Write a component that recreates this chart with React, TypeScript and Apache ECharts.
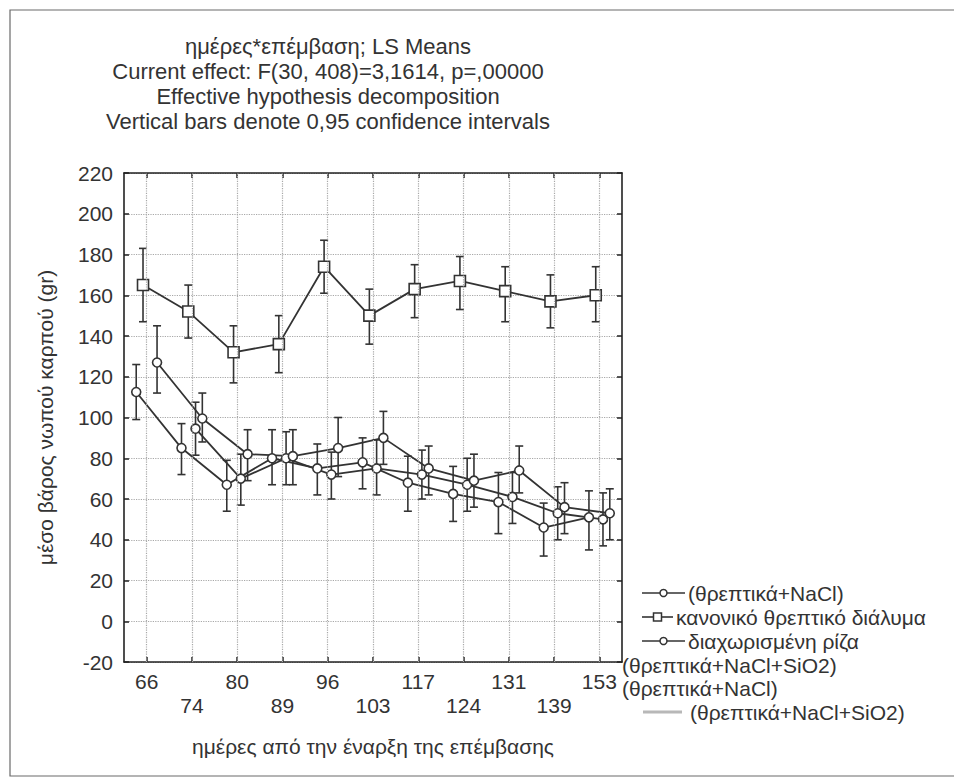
import React, { useEffect, useRef } from "react";
import * as echarts from "echarts";

// ---- data ----
const days = ["66", "74", "80", "89", "96", "103", "117", "124", "131", "139", "153"];

const titleLines = [
  "ημέρες*επέμβαση; LS Means",
  "Current effect: F(30, 408)=3,1614, p=,00000",
  "Effective hypothesis decomposition",
  "Vertical bars denote 0,95 confidence intervals",
];

const yAxisName = "μέσο βάρος νωπού καρπού (gr)";
const xAxisName = "ημέρες από την έναρξη της επέμβασης";

// (θρεπτικά+NaCl)
const saltMean = [112.5, 85, 67, 80, 75, 78, 68, 62.5, 58.5, 46, 51];
const saltLow = [99, 72, 54, 67, 62, 65, 54, 49, 43, 32, 35];
const saltHigh = [126, 97, 79, 94, 87, 90, 81, 76, 73, 58, 64];

// κανονικό θρεπτικό διάλυμα
const controlMean = [165, 152, 132, 136, 174, 150, 163, 167, 162, 157, 160];
const controlLow = [147, 139, 117, 122, 161, 136, 149, 153, 147, 144, 147];
const controlHigh = [183, 165, 145, 150, 187, 163, 175, 179, 174, 170, 174];

// διαχωρισμένη ρίζα (θρεπτικά+NaCl+SiO2)
const splitSiMean = [127, 99.5, 82, 81, 85, 90, 75, 69, 74, 56, 53];
const splitSiLow = [112, 88, 69, 67, 71, 77, 62, 56, 63, 43, 40];
const splitSiHigh = [145, 112, 94, 94, 100, 103, 86, 82, 86, 68, 65];

// (θρεπτικά+NaCl) / (θρεπτικά+NaCl+SiO2)
const splitSaltMean = [null, 94.5, 70, 80, 72, 75, 72, 67, 61, 53, 50];
const splitSaltLow = [null, 81.5, 57, 67, 60, 62, 60, 54, 48, 40, 37];
const splitSaltHigh = [null, 107.5, 82, 93, 83, 89, 84, 80, 73, 66, 63];

const legendLabels = [
  "(θρεπτικά+NaCl)",
  "κανονικό θρεπτικό διάλυμα",
  "διαχωρισμένη ρίζα",
  "(θρεπτικά+NaCl+SiO2)",
  "(θρεπτικά+NaCl)",
  "(θρεπτικά+NaCl+SiO2)",
];

const FONT = '"Liberation Sans", Arial, sans-serif';
const INK = "#333333";

type Num = number | null;

function lineData(means: Num[], offset: number) {
  return means.map((v, i) => (v == null ? [i + offset, null] : [i + offset, v]));
}
function barData(means: Num[], low: Num[], high: Num[], offset: number) {
  const out: number[][] = [];
  means.forEach((v, i) => {
    if (v != null && low[i] != null && high[i] != null) out.push([i + offset, low[i] as number, high[i] as number]);
  });
  return out;
}

function errorSeries(data: number[][]) {
  return {
    type: "custom",
    xAxisIndex: 1,
    yAxisIndex: 0,
    silent: true,
    z: 3,
    encode: { x: 0, y: [1, 2] },
    data,
    renderItem: (params: any, api: any) => {
      const x = api.value(0);
      const top = api.coord([x, api.value(2)]);
      const bot = api.coord([x, api.value(1)]);
      const hw = 4;
      const style = { stroke: INK, lineWidth: 1.6 };
      return {
        type: "group",
        children: [
          { type: "line", shape: { x1: top[0], y1: top[1], x2: bot[0], y2: bot[1] }, style },
          { type: "line", shape: { x1: top[0] - hw, y1: top[1], x2: top[0] + hw, y2: top[1] }, style },
          { type: "line", shape: { x1: bot[0] - hw, y1: bot[1], x2: bot[0] + hw, y2: bot[1] }, style },
        ],
      };
    },
  };
}

function meanSeries(name: string, means: Num[], offset: number, symbol: string, size: number, extra: any = {}) {
  return {
    type: "line",
    name,
    xAxisIndex: 1,
    yAxisIndex: 0,
    data: lineData(means, offset),
    symbol,
    symbolSize: size,
    showAllSymbol: true,
    connectNulls: false,
    z: 4,
    lineStyle: { color: INK, width: 1.8 },
    itemStyle: { color: "#ffffff", borderColor: INK, borderWidth: 1.6 },
    ...extra,
  };
}

const axisLineStyle = { show: true, onZero: false, lineStyle: { color: "#222", width: 1.6 } };
const tickStyle = { show: true, inside: true, length: 5, lineStyle: { color: "#222", width: 1.5 } };

export default function App() {
  const ref = useRef<HTMLDivElement>(null);

  useEffect(() => {
    document.body.style.margin = "0";
    if (!ref.current) return;
    const chart = echarts.init(ref.current, null, { renderer: "svg" });

    const legendRows = [
      { icon: "circle", x1: 642, x2: 685, tx: 688, y: 593 },
      { icon: "rect", x1: 642, x2: 673, tx: 676, y: 617 },
      { icon: "circle", x1: 642, x2: 685, tx: 688, y: 641 },
      { icon: "none", x1: 0, x2: 0, tx: 622, y: 665 },
      { icon: "none", x1: 0, x2: 0, tx: 622, y: 688 },
      { icon: "gray", x1: 643, x2: 682, tx: 690, y: 712 },
    ];
    const legendGraphics: any[] = [];
    legendRows.forEach((r, i) => {
      if (r.icon === "circle" || r.icon === "rect") {
        legendGraphics.push({ type: "line", shape: { x1: r.x1, y1: r.y, x2: r.x2, y2: r.y }, style: { stroke: INK, lineWidth: 1.6 } });
        const cx = (r.x1 + r.x2) / 2;
        if (r.icon === "circle") {
          legendGraphics.push({ type: "circle", shape: { cx, cy: r.y, r: 3.5 }, style: { fill: "#fff", stroke: INK, lineWidth: 1.5 } });
        } else {
          legendGraphics.push({ type: "rect", shape: { x: cx - 4, y: r.y - 4, width: 8, height: 8 }, style: { fill: "#fff", stroke: INK, lineWidth: 1.5 } });
        }
      } else if (r.icon === "gray") {
        legendGraphics.push({ type: "line", shape: { x1: r.x1, y1: r.y, x2: r.x2, y2: r.y }, style: { stroke: "#b8b8b8", lineWidth: 3 } });
      }
      legendGraphics.push({
        type: "text",
        x: r.tx,
        y: r.y,
        style: { text: legendLabels[i], fill: INK, fontSize: 21, fontFamily: FONT, verticalAlign: "middle", align: "left" },
      });
    });

    const option: any = {
      animation: false,
      backgroundColor: "#ffffff",
      title: {
        text: titleLines.join("\n"),
        left: 328,
        top: 34,
        padding: 0,
        textAlign: "center",
        textStyle: { fontSize: 22, lineHeight: 25, fontWeight: "normal", color: INK, fontFamily: FONT },
      },
      grid: { left: 124, top: 173, width: 498, height: 489, show: false },
      xAxis: [
        {
          type: "category",
          data: days,
          position: "bottom",
          boundaryGap: true,
          axisLine: axisLineStyle,
          axisTick: { ...tickStyle, alignWithLabel: true },
          axisLabel: {
            interval: 0,
            color: INK,
            fontSize: 21,
            fontFamily: FONT,
            lineHeight: 24,
            margin: 7,
            formatter: (v: string, i: number) => (i % 2 === 1 ? "\n" + v : v),
          },
          splitLine: { show: false },
          name: xAxisName,
          nameLocation: "middle",
          nameGap: 74,
          nameTextStyle: { color: INK, fontSize: 21, fontFamily: FONT },
        },
        { type: "value", min: -0.5, max: 10.5, show: false, axisLine: { onZero: false } },
        {
          type: "category",
          data: days,
          position: "top",
          boundaryGap: true,
          axisLine: axisLineStyle,
          axisTick: { ...tickStyle, alignWithLabel: true },
          axisLabel: { show: false },
          splitLine: { show: false },
        },
      ],
      yAxis: [
        {
          type: "value",
          min: -20,
          max: 220,
          interval: 20,
          position: "left",
          axisLine: axisLineStyle,
          axisTick: tickStyle,
          axisLabel: { color: INK, fontSize: 21, fontFamily: FONT, margin: 11 },
          splitLine: { show: true, lineStyle: { type: "dotted", color: "#a8a8a8", width: 1.2 } },
          name: yAxisName,
          nameLocation: "middle",
          nameGap: 68,
          nameTextStyle: { color: INK, fontSize: 21, fontFamily: FONT },
        },
        {
          type: "value",
          min: -20,
          max: 220,
          interval: 20,
          position: "right",
          axisLine: axisLineStyle,
          axisTick: tickStyle,
          axisLabel: { show: false },
          splitLine: { show: false },
        },
      ],
      series: [
        meanSeries("(θρεπτικά+NaCl)", saltMean, -0.23, "circle", 9, {
          markLine: {
            silent: true,
            symbol: "none",
            label: { show: false },
            lineStyle: { type: "dotted", color: "#a8a8a8", width: 1.2 },
            data: days.map((_, i) => ({ xAxis: i })),
          },
        }),
        meanSeries("κανονικό θρεπτικό διάλυμα", controlMean, -0.08, "rect", 11),
        meanSeries("διαχωρισμένη ρίζα (θρεπτικά+NaCl)", splitSaltMean, 0.08, "circle", 9),
        meanSeries("διαχωρισμένη ρίζα (θρεπτικά+NaCl+SiO2)", splitSiMean, 0.23, "circle", 9),
        errorSeries(barData(saltMean, saltLow, saltHigh, -0.23)),
        errorSeries(barData(controlMean, controlLow, controlHigh, -0.08)),
        errorSeries(barData(splitSaltMean, splitSaltLow, splitSaltHigh, 0.08)),
        errorSeries(barData(splitSiMean, splitSiLow, splitSiHigh, 0.23)),
      ],
      graphic: [
        {
          type: "rect",
          shape: { x: 10, y: 10, width: 980, height: 766 },
          style: { fill: "none", stroke: "#6a6a6a", lineWidth: 1.2 },
          silent: true,
          z: -1,
        },
        ...legendGraphics,
      ],
    };

    chart.setOption(option);
    return () => chart.dispose();
  }, []);

  return <div ref={ref} style={{ width: 954, height: 784 }} />;
}
